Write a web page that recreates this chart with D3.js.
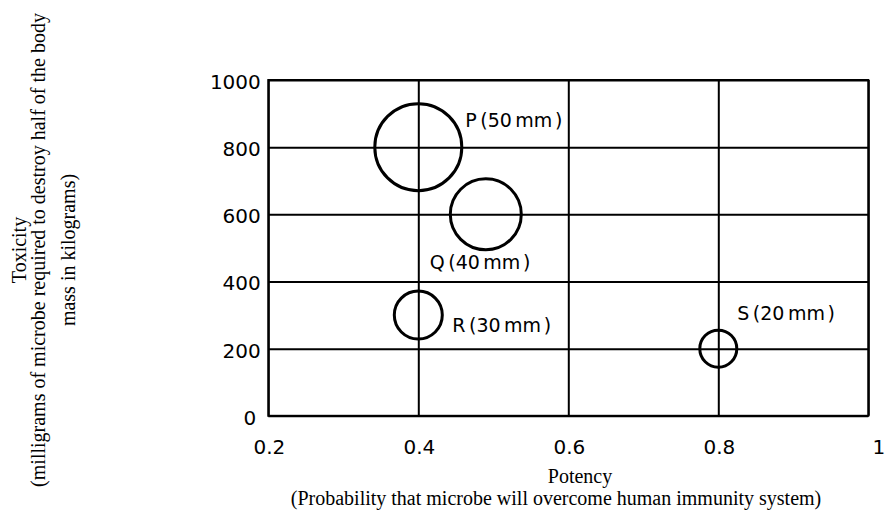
<!DOCTYPE html>
<html>
<head>
<meta charset="utf-8">
<script src="https://cdn.jsdelivr.net/npm/d3@7"></script>
<style>
  body { margin: 0; background: #fff; }
  svg { display: block; }
</style>
</head>
<body>
<svg></svg>
<script>
// data
const microbes = ["P", "Q", "R", "S"];
const potency = [0.4, 0.49, 0.4, 0.8];
const toxicity = [800, 600, 300, 200];
const sizeMm = [50, 40, 30, 20];
const xTicks = [0.2, 0.4, 0.6, 0.8, 1];
const yTicks = [0, 200, 400, 600, 800, 1000];
const yTitle = ["Toxicity", "(milligrams of microbe required to destroy half of the body", "mass in kilograms)"];
const xTitle = ["Potency", "(Probability that microbe will overcome human immunity system)"];

const width = 885;
const height = 514;
const plotLeft = 268.3, plotRight = 868.3, plotTop = 80, plotBottom = 415.8;

// where each label sits relative to its circle
const labelOffset = { P: [47, -20.5], Q: [-56, 55], R: [34, 17], S: [19, -29] };

const svg = d3.select("svg").attr("width", width).attr("height", height);

const xScale = d3.scaleLinear().domain([0.2, 1]).range([plotLeft, plotRight]);
const yScale = d3.scaleLinear().domain([0, 1000]).range([plotBottom, plotTop]);
const rScale = d3.scaleLinear().domain([20, 30, 40, 50]).range([18.5, 24, 35.5, 43.5]);

const points = microbes.map((m, i) => ({ name: m, x: potency[i], y: toxicity[i], size: sizeMm[i] }));

// gridlines + tick labels
const xAxis = d3.axisBottom(xScale).tickValues(xTicks).tickFormat(d3.format("")).tickSize(-(plotBottom - plotTop)).tickSizeOuter(0);
const gx = svg.append("g").attr("transform", "translate(0," + plotBottom + ")").call(xAxis);
gx.select(".domain").remove();
gx.selectAll("line").attr("stroke", "#000").attr("stroke-width", 2);
gx.selectAll("text")
  .attr("y", 38).attr("dy", 0).attr("x", 16.5)
  .attr("text-anchor", "end")
  .attr("fill", "#000")
  .style("font-family", "'DejaVu Sans', sans-serif").style("font-size", "20px");

const yAxis = d3.axisLeft(yScale).tickValues(yTicks).tickFormat(d3.format("d")).tickSize(-(plotRight - plotLeft)).tickSizeOuter(0);
const gy = svg.append("g").attr("transform", "translate(" + plotLeft + ",0)").call(yAxis);
gy.select(".domain").remove();
gy.selectAll("line").attr("stroke", "#000").attr("stroke-width", 2);
gy.selectAll("text")
  .attr("x", d => d === 0 ? -12 : -7.5).attr("dy", "0.42em")
  .attr("fill", "#000")
  .style("font-family", "'DejaVu Sans', sans-serif").style("font-size", "20px");

// border
svg.append("rect")
  .attr("x", plotLeft).attr("y", plotTop)
  .attr("width", plotRight - plotLeft).attr("height", plotBottom - plotTop)
  .attr("fill", "none").attr("stroke", "#000").attr("stroke-width", 2);

// bubbles
svg.selectAll("circle.bubble").data(points).enter().append("circle")
  .attr("class", "bubble")
  .attr("cx", d => xScale(d.x))
  .attr("cy", d => yScale(d.y))
  .attr("r", d => rScale(d.size))
  .attr("fill", "none")
  .attr("stroke", "#000")
  .attr("stroke-width", 3);

// labels, spaced out a bit like the original: "P (50 mm )"
const lbl = svg.selectAll("text.lbl").data(points).enter().append("text")
  .attr("class", "lbl")
  .attr("x", d => xScale(d.x) + labelOffset[d.name][0])
  .attr("y", d => yScale(d.y) + labelOffset[d.name][1])
  .style("font-family", "'DejaVu Sans', sans-serif")
  .style("font-size", "19px");
lbl.append("tspan").text(d => d.name);
lbl.append("tspan").attr("dx", 3.5).text(d => "(" + d.size);
lbl.append("tspan").attr("dx", 3.5).text("mm");
lbl.append("tspan").attr("dx", 2.5).text(")");

// axis titles
const serif = "'Liberation Serif', 'Times New Roman', serif";
const yLineX = [26, 45, 75];
svg.append("g").selectAll("text").data(yTitle).enter().append("text")
  .attr("transform", (d, i) => "translate(" + yLineX[i] + ",250) rotate(-90)")
  .attr("text-anchor", "middle")
  .style("font-family", serif).style("font-size", "20px")
  .text(d => d);

const xLineX = [580, 556];
const xLineY = [483, 505];
svg.append("g").selectAll("text").data(xTitle).enter().append("text")
  .attr("x", (d, i) => xLineX[i]).attr("y", (d, i) => xLineY[i])
  .attr("text-anchor", "middle")
  .style("font-family", serif).style("font-size", "20px")
  .text(d => d);
</script>
</body>
</html>
